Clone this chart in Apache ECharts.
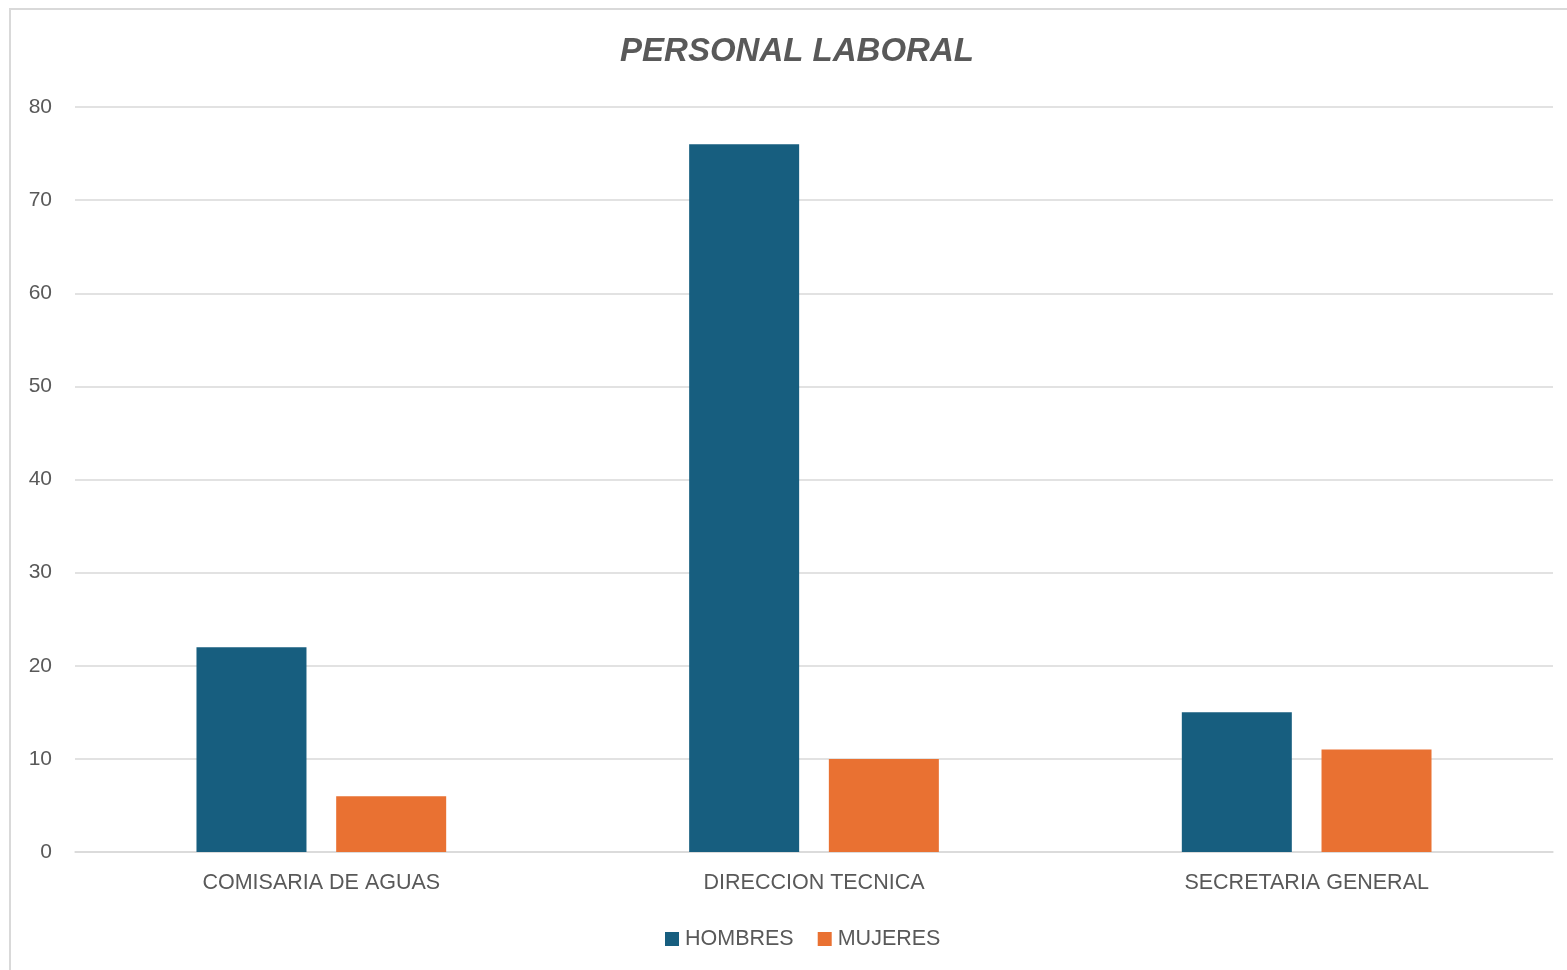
<!DOCTYPE html>
<html>
<head>
<meta charset="utf-8">
<script src="https://cdn.jsdelivr.net/npm/echarts@6/dist/echarts.min.js"></script>
<style>
html,body{margin:0;padding:0;background:#fff;overflow:hidden;}
#frame{position:absolute;left:9px;top:8px;width:1600px;height:1000px;border:2px solid #d9d9d9;box-sizing:border-box;}
#chart{position:absolute;left:0;top:0;width:1567px;height:970px;}
</style>
</head>
<body>
<div id="frame"></div>
<div id="chart"></div>
<script>
const categories = ['COMISARIA DE AGUAS', 'DIRECCION TECNICA', 'SECRETARIA GENERAL'];
const hombres = [22, 76, 15];
const mujeres = [6, 10, 11];
const yTicks = { min: 0, max: 80, interval: 10 };

const chart = echarts.init(document.getElementById('chart'));
const txt = '#595959';
const ff = 'Liberation Sans, Arial, sans-serif';
chart.setOption({
  animation: false,
  backgroundColor: 'transparent',
  title: {
    text: 'PERSONAL LABORAL',
    left: 792, top: 30, textAlign: 'center',
    textStyle: { fontFamily: ff, fontSize: 33, fontWeight: 'bold', fontStyle: 'italic', color: txt }
  },
  legend: {
    data: ['HOMBRES', 'MUJERES'],
    left: 660, top: 923,
    itemWidth: 14, itemHeight: 14, itemGap: 24,
    icon: 'rect',
    textStyle: { fontFamily: ff, fontSize: 21.5, color: txt, padding: [0, 0, 0, 1] }
  },
  grid: { left: 75, right: 14, top: 107, bottom: 118, containLabel: false },
  xAxis: {
    type: 'category',
    data: categories,
    axisLine: { lineStyle: { color: '#d9d9d9', width: 1.5 } },
    axisTick: { show: false },
    axisLabel: { fontFamily: ff, fontSize: 21.5, color: txt, margin: 20 }
  },
  yAxis: {
    type: 'value',
    min: yTicks.min, max: yTicks.max, interval: yTicks.interval,
    axisLine: { show: false },
    axisTick: { show: false },
    splitLine: { lineStyle: { color: '#d9d9d9', width: 1.5 } },
    axisLabel: { fontFamily: ff, fontSize: 21, color: txt, margin: 23 }
  },
  series: [
    { name: 'HOMBRES', type: 'bar', data: hombres, barWidth: 110, barGap: '27%',
      itemStyle: { color: '#175E7F' } },
    { name: 'MUJERES', type: 'bar', data: mujeres, barWidth: 110,
      itemStyle: { color: '#E97132' } }
  ]
});
</script>
</body>
</html>
